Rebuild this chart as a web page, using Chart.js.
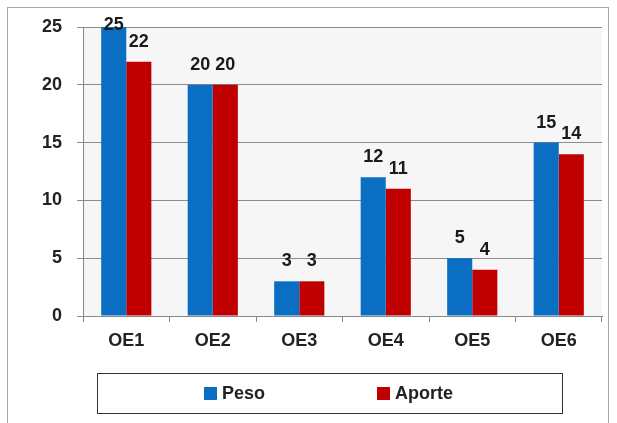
<!DOCTYPE html>
<html>
<head>
<meta charset="utf-8">
<script src="https://cdn.jsdelivr.net/npm/chart.js@4.4.1/dist/chart.umd.min.js"></script>
<style>
  body { margin: 0; background: #fff; }
  #wrap { position: relative; width: 617px; height: 423px; }
</style>
</head>
<body>
<div id="wrap"><canvas id="myChart" width="617" height="423"></canvas></div>
<script>
const categories = ['OE1', 'OE2', 'OE3', 'OE4', 'OE5', 'OE6'];
const peso = [25, 20, 3, 12, 5, 15];
const aporte = [22, 20, 3, 11, 4, 14];
const yTicks = [0, 5, 10, 15, 20, 25];

const FONT = '"Liberation Sans", Arial, sans-serif';

// frame, plot background and the boxed legend at the bottom
const frame = {
  id: 'frame',
  beforeDraw(chart) {
    const { ctx, chartArea } = chart;
    ctx.save();
    ctx.fillStyle = '#f6f6f6';
    ctx.fillRect(chartArea.left, chartArea.top, chartArea.right - chartArea.left, chartArea.bottom - chartArea.top);
    ctx.strokeStyle = '#a6a6a6';
    ctx.lineWidth = 1;
    ctx.strokeRect(7.5, 7.5, 601, 420);
    ctx.restore();
  },
  afterDraw(chart) {
    const { ctx } = chart;
    ctx.save();
    ctx.strokeStyle = '#333';
    ctx.lineWidth = 1;
    ctx.strokeRect(97.5, 373.5, 465, 40);
    // legend items, one per dataset
    const itemX = [204, 377];
    ctx.font = 'bold 18px ' + FONT;
    ctx.textBaseline = 'middle';
    ctx.textAlign = 'left';
    chart.data.datasets.forEach((ds, i) => {
      ctx.fillStyle = ds.backgroundColor;
      ctx.fillRect(itemX[i], 387, 13, 13);
      ctx.fillStyle = '#222';
      ctx.fillText(ds.label, itemX[i] + 18, 394);
    });
    ctx.restore();
  }
};

// value labels above each bar
const valueLabels = {
  id: 'valueLabels',
  afterDatasetsDraw(chart) {
    const { ctx, chartArea } = chart;
    ctx.save();
    ctx.font = 'bold 18px ' + FONT;
    ctx.fillStyle = '#1a1a1a';
    ctx.textAlign = 'center';
    ctx.textBaseline = 'middle';
    chart.data.datasets.forEach((ds, i) => {
      chart.getDatasetMeta(i).data.forEach((bar, j) => {
        const y = Math.max(bar.y - 20, chartArea.top - 2);
        ctx.fillText(ds.data[j], bar.x, y);
      });
    });
    ctx.restore();
  }
};

new Chart(document.getElementById('myChart').getContext('2d'), {
  type: 'bar',
  data: {
    labels: categories,
    datasets: [
      { label: 'Peso', data: peso, backgroundColor: '#0a6fc2' },
      { label: 'Aporte', data: aporte, backgroundColor: '#c00000' }
    ]
  },
  options: {
    responsive: false,
    animation: false,
    layout: { padding: { left: 27, right: 15, top: 27, bottom: 48 } },
    datasets: { bar: { barPercentage: 1, categoryPercentage: 0.58 } },
    scales: {
      x: {
        afterFit(axis) { axis.height = 59; },
        grid: { display: true, drawOnChartArea: false, offset: true, color: '#888', tickLength: 6 },
        border: { color: '#888' },
        ticks: { color: '#222', font: { family: 'Liberation Sans', size: 18, weight: 'bold' }, padding: 8 }
      },
      y: {
        min: 0,
        max: 25,
        afterBuildTicks(axis) { axis.ticks = yTicks.map(v => ({ value: v })); },
        grid: { color: '#8c8c8c', tickLength: 6 },
        border: { color: '#888' },
        ticks: { color: '#222', font: { family: 'Liberation Sans', size: 18, weight: 'bold' }, padding: 15 }
      }
    },
    plugins: {
      legend: { display: false },
      tooltip: { enabled: false }
    }
  },
  plugins: [frame, valueLabels]
});
</script>
</body>
</html>
